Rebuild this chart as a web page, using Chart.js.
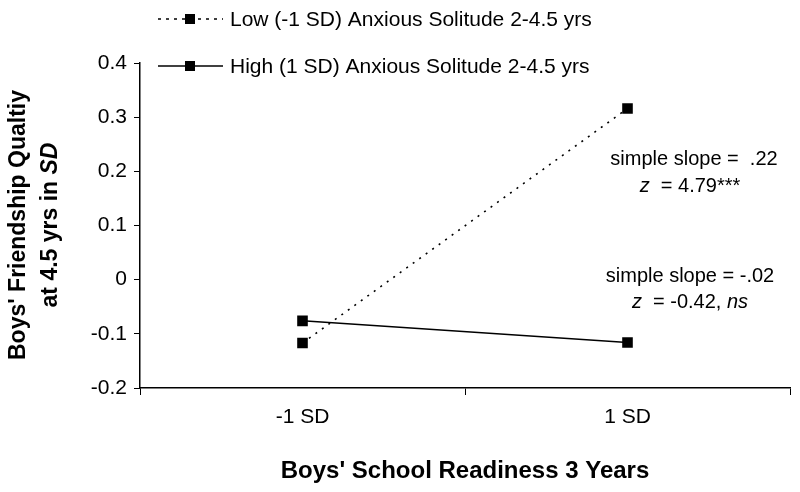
<!DOCTYPE html>
<html><head><meta charset="utf-8">
<script src="https://cdn.jsdelivr.net/npm/chart.js@4/dist/chart.umd.min.js"></script>
<style>html,body{margin:0;padding:0;background:#fff}#wrap{width:800px;height:492px}</style>
</head><body><div id="wrap"><canvas id="c" width="800" height="492"></canvas></div>
<script>
const categories = ['-1 SD', '1 SD'];
const lowAnxious = [-0.117, 0.316];
const highAnxious = [-0.076, -0.116];
const seriesNames = ['Low (-1 SD) Anxious Solitude 2-4.5 yrs', 'High (1 SD) Anxious Solitude 2-4.5 yrs'];
const yTicks = [-0.2, -0.1, 0, 0.1, 0.2, 0.3, 0.4];
const FONT = '"Liberation Sans", Arial, sans-serif';

const overlay = {
  id: 'overlay',
  afterDraw(chart) {
    const ctx = chart.ctx;
    ctx.save();
    ctx.fillStyle = '#000';
    ctx.strokeStyle = '#000';
    // legend
    const rows = [{y: 19, dash: [3, 5]}, {y: 66, dash: []}];
    rows.forEach((r, i) => {
      ctx.beginPath();
      ctx.setLineDash(r.dash);
      ctx.lineWidth = 1.5;
      ctx.moveTo(158, r.y); ctx.lineTo(223, r.y);
      ctx.stroke();
      ctx.setLineDash([]);
      ctx.fillRect(185, r.y - 5, 10, 10);
      ctx.font = '21px ' + FONT;
      ctx.textAlign = 'left'; ctx.textBaseline = 'middle';
      ctx.fillText(seriesNames[i], 230, r.y + 1);
    });
    // annotations
    ctx.font = '20px ' + FONT;
    ctx.textAlign = 'center'; ctx.textBaseline = 'middle';
    ctx.fillText('simple slope =  .22', 694, 159);
    drawMixed(ctx, [['z', true], ['  = 4.79***', false]], 690, 186, 20);
    ctx.fillText('simple slope = -.02', 690, 276);
    drawMixed(ctx, [['z', true], ['  = -0.42, ', false], ['ns', true]], 690, 302, 20);
    // x title
    ctx.font = 'bold 24px ' + FONT;
    ctx.fillText("Boys' School Readiness 3 Years", 465, 471);
    // y title
    ctx.translate(19, 225);
    ctx.rotate(-Math.PI / 2);
    ctx.font = 'bold 23px ' + FONT;
    ctx.textAlign = 'center';
    ctx.fillText("Boys' Friendship Qualtiy", 0, 0);
    ctx.translate(0, 32);
    drawMixed(ctx, [['at 4.5 yrs in ', false, true], ['SD', true, true]], 0, 0, 23);
    ctx.restore();
  }
};
function drawMixed(ctx, parts, cx, cy, size) {
  const fonts = parts.map(p => (p[1] ? 'italic ' : '') + (p[2] ? 'bold ' : '') + size + 'px ' + FONT);
  let total = 0;
  const widths = parts.map((p, i) => { ctx.font = fonts[i]; const w = ctx.measureText(p[0]).width; total += w; return w; });
  let x = cx - total / 2;
  const oldAlign = ctx.textAlign;
  ctx.textAlign = 'left';
  parts.forEach((p, i) => { ctx.font = fonts[i]; ctx.fillText(p[0], x, cy); x += widths[i]; });
  ctx.textAlign = oldAlign;
}

new Chart(document.getElementById('c'), {
  type: 'line',
  data: {
    labels: categories,
    datasets: [
      { label: seriesNames[0], data: lowAnxious, borderColor: '#000', backgroundColor: '#000', borderWidth: 1.6, borderDash: [2, 6],
        pointStyle: 'rect', pointRadius: 7.5, pointBorderWidth: 0, pointBackgroundColor: '#000', tension: 0 },
      { label: seriesNames[1], data: highAnxious, borderColor: '#000', backgroundColor: '#000', borderWidth: 1.5,
        pointStyle: 'rect', pointRadius: 7.5, pointBorderWidth: 0, pointBackgroundColor: '#000', tension: 0 }
    ]
  },
  options: {
    responsive: false,
    animation: false,
    layout: { padding: { top: 63, right: 10, left: 0, bottom: 0 } },
    plugins: { legend: { display: false }, tooltip: { enabled: false } },
    scales: {
      x: {
        type: 'category', offset: true,
        grid: { display: true, drawOnChartArea: false, drawTicks: true, tickLength: 7, color: '#000', offset: true },
        border: { display: true, color: '#000', width: 1.5 },
        ticks: { color: '#000', font: { family: FONT, size: 21 }, padding: 10 },
        afterFit(s) { s.height = 104; }
      },
      y: {
        min: -0.2, max: 0.4,
        afterBuildTicks(s) { s.ticks = yTicks.map(v => ({ value: v })); },
        grid: { display: true, drawOnChartArea: false, drawTicks: true, tickLength: 6, color: '#000' },
        border: { display: true, color: '#000', width: 1.5 },
        ticks: { color: '#000', font: { family: FONT, size: 21 }, padding: 7,
          callback: v => (v === 0 ? '0' : String(Math.round(v * 10) / 10)) },
        afterFit(s) { s.width = 140; }
      }
    }
  },
  plugins: [overlay]
});
</script>
</body></html>
